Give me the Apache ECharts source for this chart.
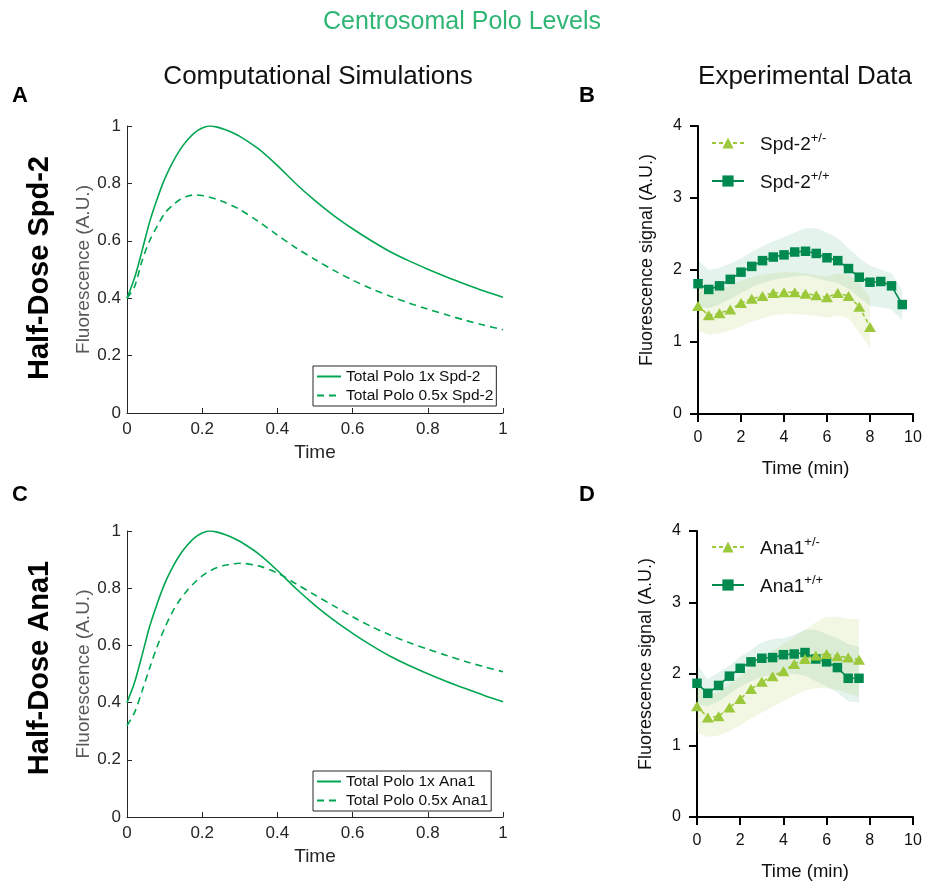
<!DOCTYPE html>
<html><head><meta charset="utf-8">
<script src="https://cdn.jsdelivr.net/npm/echarts@6/dist/echarts.min.js"></script>
<style>html,body{margin:0;padding:0;background:#fff}#c{width:925px;height:887px}</style>
</head><body><div id="c"></div>
<script>
// ---------- Simulation data (panels A, C) ----------
const simTime = [0,0.02,0.04,0.06,0.08,0.10,0.12,0.14,0.16,0.18,0.20,0.22,0.24,0.26,0.28,0.30,
  0.35,0.40,0.45,0.50,0.55,0.60,0.65,0.70,0.75,0.80,0.85,0.90,0.95,1.00];
const polo1x = [0.40,0.47,0.565,0.665,0.745,0.815,0.87,0.915,0.95,0.977,0.993,1.0,0.996,0.988,0.977,0.964,
  0.920,0.862,0.798,0.740,0.688,0.642,0.600,0.562,0.530,0.501,0.474,0.449,0.425,0.403];
const polo05xSpd2 = [0.40,0.44,0.53,0.60,0.65,0.695,0.722,0.743,0.755,0.76,0.758,0.752,0.744,0.734,0.722,0.709,
  0.667,0.62,0.575,0.535,0.497,0.463,0.433,0.407,0.383,0.362,0.342,0.323,0.306,0.29];
const polo05xAna1 = [0.32,0.365,0.44,0.52,0.595,0.66,0.715,0.758,0.792,0.82,0.843,0.86,0.872,0.88,0.885,0.887,
  0.878,0.853,0.815,0.776,0.738,0.70,0.666,0.636,0.61,0.587,0.565,0.544,0.525,0.508];

// ---------- Experimental data (panel B) ----------
const timeSpd2Het = [0,0.5,1,1.5,2,2.5,3,3.5,4,4.5,5,5.5,6,6.5,7,7.5,8];
const spd2Het      = [1.50,1.37,1.40,1.45,1.54,1.60,1.64,1.68,1.69,1.69,1.67,1.65,1.62,1.68,1.64,1.49,1.21];
const spd2HetUpper = [1.86,1.70,1.72,1.78,1.85,1.90,1.93,1.96,1.97,1.97,1.95,1.93,1.91,1.95,1.93,1.82,1.62];
const spd2HetLower = [1.16,1.10,1.12,1.16,1.22,1.28,1.33,1.37,1.39,1.39,1.38,1.36,1.34,1.37,1.33,1.13,0.92];
const timeSpd2WT = [0,0.5,1,1.5,2,2.5,3,3.5,4,4.5,5,5.5,6,6.5,7,7.5,8,8.5,9,9.5];
const spd2WT      = [1.81,1.73,1.78,1.87,1.97,2.05,2.13,2.18,2.21,2.25,2.26,2.23,2.17,2.13,2.02,1.90,1.83,1.84,1.78,1.52];
const spd2WTUpper = [2.14,2.00,2.03,2.09,2.16,2.25,2.33,2.40,2.46,2.52,2.58,2.58,2.52,2.44,2.30,2.17,2.06,2.01,1.95,1.72];
const spd2WTLower = [1.50,1.47,1.52,1.60,1.68,1.76,1.82,1.86,1.89,1.91,1.92,1.89,1.85,1.82,1.74,1.62,1.50,1.48,1.45,1.30];

// ---------- Experimental data (panel D) ----------
const timeAna1 = [0,0.5,1,1.5,2,2.5,3,3.5,4,4.5,5,5.5,6,6.5,7,7.5];
const ana1Het      = [1.55,1.39,1.41,1.53,1.65,1.79,1.89,1.97,2.04,2.14,2.21,2.26,2.28,2.25,2.23,2.20];
const ana1HetUpper = [1.85,1.70,1.75,1.85,1.97,2.10,2.22,2.32,2.42,2.52,2.62,2.72,2.80,2.80,2.77,2.77];
const ana1HetLower = [1.18,1.12,1.14,1.20,1.28,1.38,1.46,1.54,1.62,1.70,1.77,1.80,1.80,1.78,1.73,1.68];
const ana1WT      = [1.87,1.73,1.84,1.97,2.08,2.17,2.22,2.23,2.27,2.28,2.30,2.21,2.17,2.09,1.94,1.94];
const ana1WTUpper = [2.13,1.93,2.02,2.12,2.24,2.34,2.44,2.49,2.50,2.55,2.62,2.62,2.56,2.50,2.42,2.38];
const ana1WTLower = [1.58,1.55,1.62,1.72,1.82,1.90,1.96,1.99,2.01,2.00,1.98,1.90,1.82,1.74,1.62,1.60];

// ---------- Axis ticks ----------
const simTicks = {min:0, max:1, interval:0.2};
const expYTicks = {min:0, max:4, interval:1};
const expXTicks = {min:0, max:10, interval:2};

const FONT = '"Liberation Sans", Arial, Helvetica, sans-serif';
const simGreen = '#00a651';
const darkGreen = '#008a4f';
const lime = '#9cc93c';
const bandTeal = 'rgba(0,138,79,0.10)';
const bandLime = 'rgba(156,201,60,0.14)';

const pair = (xs, ys) => xs.map((x, i) => [x, ys[i]]);

const grids = [
  {left:127, top:126, width:376, height:287},
  {left:698, top:126, width:215, height:288},
  {left:127, top:531, width:376, height:286},
  {left:697, top:531, width:216, height:286}
].map(g => Object.assign({containLabel:false, outerBoundsMode:'none'}, g));

function simX(gi){
  return {type:'value', gridIndex:gi, min:simTicks.min, max:simTicks.max, interval:simTicks.interval,
    name:'Time', nameLocation:'middle', nameGap:30,
    nameTextStyle:{fontFamily:FONT, fontSize:19, color:'#262626'},
    axisLine:{show:true, onZero:false, lineStyle:{color:'#262626', width:1}},
    axisTick:{show:true, inside:true, length:5, lineStyle:{color:'#262626', width:1}},
    axisLabel:{fontFamily:FONT, fontSize:17, color:'#262626', margin:8},
    splitLine:{show:false}};
}
function simY(gi){
  return {type:'value', gridIndex:gi, min:simTicks.min, max:simTicks.max, interval:simTicks.interval,
    name:'Fluorescence (A.U.)', nameLocation:'middle', nameGap:34,
    nameTextStyle:{fontFamily:FONT, fontSize:19, color:'#595959'},
    axisLine:{show:true, onZero:false, lineStyle:{color:'#262626', width:1}},
    axisTick:{show:true, inside:true, length:5, lineStyle:{color:'#262626', width:1}},
    axisLabel:{fontFamily:FONT, fontSize:17, color:'#262626', margin:6},
    splitLine:{show:false}};
}
function expX(gi){
  return {type:'value', gridIndex:gi, min:expXTicks.min, max:expXTicks.max, interval:expXTicks.interval,
    name:'Time (min)', nameLocation:'middle', nameGap:45,
    nameTextStyle:{fontFamily:FONT, fontSize:18.5, color:'#111'},
    axisLine:{show:true, onZero:false, lineStyle:{color:'#000', width:2}},
    axisTick:{show:true, inside:false, length:8, lineStyle:{color:'#000', width:2}},
    axisLabel:{fontFamily:FONT, fontSize:16, color:'#111', margin:16},
    splitLine:{show:false}};
}
function expY(gi){
  return {type:'value', gridIndex:gi, min:expYTicks.min, max:expYTicks.max, interval:expYTicks.interval,
    name:'Fluorescence signal (A.U.)', nameLocation:'middle', nameGap:42,
    nameTextStyle:{fontFamily:FONT, fontSize:18, color:'#111', padding:[0,0,0,20]},
    axisLine:{show:true, onZero:false, lineStyle:{color:'#000', width:2}},
    axisTick:{show:true, inside:false, length:8, lineStyle:{color:'#000', width:2}},
    axisLabel:{fontFamily:FONT, fontSize:16, color:'#111', margin:16},
    splitLine:{show:false}};
}

function simLine(name, gi, ys, dashed){
  return {type:'line', name, xAxisIndex:gi, yAxisIndex:gi, data:pair(simTime, ys), symbol:'none',
    smooth:0.3, lineStyle:{color:simGreen, width:1.6, type: dashed ? [7,5] : 'solid'},
    itemStyle:{color:simGreen}, z:3, silent:true};
}
// shaded error band: polygon through upper edge then lower edge, placed via the axis scales
function band(gi, xs, lo, hi, color){
  return {type:'custom', xAxisIndex:gi, yAxisIndex:gi, silent:true, z:1,
    data: xs.map((x, i) => [x, lo[i], hi[i]]),
    encode:{x:0, y:[1,2]},
    renderItem:(params, api) => {
      if (params.dataIndex !== 0) return null;
      const up = xs.map((x, i) => api.coord([x, hi[i]]));
      const dn = xs.map((x, i) => api.coord([x, lo[i]])).reverse();
      return {type:'polygon', shape:{points: up.concat(dn)}, style:{fill: color}};
    }};
}
function expLine(name, gi, xs, ys, kind){
  const tri = kind === 'tri';
  return {type:'line', name, xAxisIndex:gi, yAxisIndex:gi, data:pair(xs, ys),
    symbol: tri ? 'triangle' : 'rect', symbolSize: tri ? [12, 10] : 9.5,
    lineStyle:{color: tri ? lime : darkGreen, width:1.6, type: tri ? [4,3] : 'solid'},
    itemStyle:{color: tri ? lime : darkGreen}, z: tri ? 5 : 4, silent:true};
}

function simLegend(top, names){
  return {orient:'vertical', left:313, top, padding:[2,3,2,3], itemGap:2,
    borderColor:'#262626', borderWidth:1, borderRadius:0, backgroundColor:'#fff',
    itemWidth:24, itemHeight:10, selectedMode:false,
    itemStyle:{opacity:0},
    textStyle:{fontFamily:FONT, fontSize:15.5, color:'#111', lineHeight:17},
    data:names};
}
function expLegend(top, names){
  return {orient:'vertical', left:711, top, padding:0, itemGap:16,
    itemWidth:32, itemHeight:14, selectedMode:false,
    formatter: n => { const m = n.match(/^(.*?)(\+\/[-+])$/); return '{g| }{b|' + m[1] + '}{s|' + m[2] + '}'; },
    textStyle:{fontFamily:FONT, rich:{
      g:{width:11, fontSize:12, lineHeight:22},
      b:{fontFamily:FONT, fontSize:19, color:'#111', lineHeight:22, verticalAlign:'bottom'},
      s:{fontFamily:FONT, fontSize:13, color:'#111', lineHeight:13, verticalAlign:'top'}}},
    data:names};
}

const option = {
  animation:false,
  backgroundColor:'#fff',
  grid: grids,
  xAxis:[simX(0), expX(1), simX(2), expX(3)],
  yAxis:[simY(0), expY(1), simY(2), expY(3)],
  legend:[
    simLegend(366, ['Total Polo 1x Spd-2','Total Polo 0.5x Spd-2']),
    expLegend(132, ['Spd-2+/-','Spd-2+/+']),
    simLegend(771, ['Total Polo 1x Ana1','Total Polo 0.5x Ana1']),
    expLegend(536, ['Ana1+/-','Ana1+/+'])
  ],
  series:[
    simLine('Total Polo 1x Spd-2', 0, polo1x, false),
    simLine('Total Polo 0.5x Spd-2', 0, polo05xSpd2, true),
    simLine('Total Polo 1x Ana1', 2, polo1x, false),
    simLine('Total Polo 0.5x Ana1', 2, polo05xAna1, true),
    band(1, timeSpd2WT, spd2WTLower, spd2WTUpper, bandTeal),
    band(1, timeSpd2Het, spd2HetLower, spd2HetUpper, bandLime),
    band(3, timeAna1, ana1WTLower, ana1WTUpper, bandTeal),
    band(3, timeAna1, ana1HetLower, ana1HetUpper, bandLime),
    expLine('Spd-2+/+', 1, timeSpd2WT, spd2WT, 'sq'),
    expLine('Spd-2+/-', 1, timeSpd2Het, spd2Het, 'tri'),
    expLine('Ana1+/+', 3, timeAna1, ana1WT, 'sq'),
    expLine('Ana1+/-', 3, timeAna1, ana1Het, 'tri')
  ],
  graphic:[
    {type:'text', x:462, y:22, style:{text:'Centrosomal Polo Levels', font:'25px ' + FONT, fill:'#2fb574', align:'center', verticalAlign:'middle'}},
    {type:'text', x:318, y:77, style:{text:'Computational Simulations', font:'26px ' + FONT, fill:'#111', align:'center', verticalAlign:'middle'}},
    {type:'text', x:805, y:77, style:{text:'Experimental Data', font:'26px ' + FONT, fill:'#111', align:'center', verticalAlign:'middle'}},
    {type:'text', x:12, y:96, style:{text:'A', font:'bold 22px ' + FONT, fill:'#000', align:'left', verticalAlign:'middle'}},
    {type:'text', x:579, y:96, style:{text:'B', font:'bold 22px ' + FONT, fill:'#000', align:'left', verticalAlign:'middle'}},
    {type:'text', x:12, y:495, style:{text:'C', font:'bold 22px ' + FONT, fill:'#000', align:'left', verticalAlign:'middle'}},
    {type:'text', x:579, y:495, style:{text:'D', font:'bold 22px ' + FONT, fill:'#000', align:'left', verticalAlign:'middle'}},
    {type:'text', x:40, y:268, rotation:Math.PI/2, style:{text:'Half-Dose Spd-2', font:'bold 29px ' + FONT, fill:'#000', align:'center', verticalAlign:'middle'}},
    {type:'text', x:40, y:668, rotation:Math.PI/2, style:{text:'Half-Dose Ana1', font:'bold 29px ' + FONT, fill:'#000', align:'center', verticalAlign:'middle'}}
  ]
};

const chart = echarts.init(document.getElementById('c'), null, {renderer:'canvas', width:925, height:887});
chart.setOption(option);
</script>
</body></html>
